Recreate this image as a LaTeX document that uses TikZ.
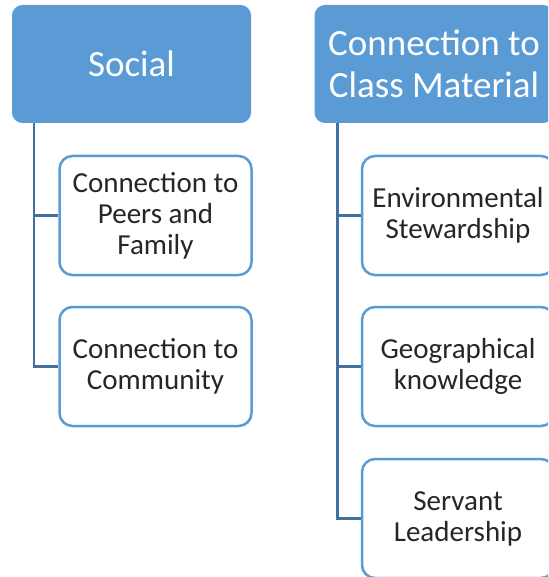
\documentclass[tikz,border=0pt]{standalone}
\usepackage{fontspec}
\setmainfont{Carlito}
\usepackage{xcolor}
\definecolor{headBlue}{HTML}{5B9BD5}
\definecolor{lineBlue}{HTML}{41719C}
\definecolor{textGray}{HTML}{262626}

\tikzset{
    headbox/.style={draw=headBlue, fill=headBlue, rounded corners=10pt, line width=1pt,
        align=center, text=white, font=\fontsize{37}{42}\selectfont,
        minimum width=238pt, minimum height=117pt, inner sep=0pt},
    itembox/.style={draw=headBlue, fill=white, rounded corners=13pt, line width=2.5pt,
        align=center, text=textGray, font=\fontsize{29}{31}\selectfont,
        minimum width=192pt, minimum height=119pt, inner sep=0pt},
    link/.style={draw=lineBlue, line width=2.5pt}
}

\begin{document}
\begin{tikzpicture}[x=1pt, y=-1pt]
    \useasboundingbox (0,0) rectangle (548,577);
    \clip (0,0) rectangle (548,577);

    % left column
    \node[headbox] (social) at (131.5,64) {Social};
    \node[itembox] (peers) at (155.5,215.5) {Connection to\\Peers and\\Family};
    \node[itembox] (community) at (155.5,366.5) {Connection to\\Community};
    \coordinate (socialFoot) at ([xshift=22pt]social.south west);
    \draw[link] (socialFoot) |- (peers.west);
    \draw[link] (socialFoot) |- (community.west);

    % right column
    \node[headbox] (classmat) at (434,64) {Connection to\\Class Material};
    \node[itembox] (env) at (458,215.5) {Environmental\\Stewardship};
    \node[itembox] (geo) at (458,366.5) {Geographical\\knowledge};
    \node[itembox] (servant) at (458,518.5) {Servant\\Leadership};
    \coordinate (classFoot) at ([xshift=23pt]classmat.south west);
    \draw[link] (classFoot) |- (env.west);
    \draw[link] (classFoot) |- (geo.west);
    \draw[link] (classFoot) |- (servant.west);
\end{tikzpicture}
\end{document}
